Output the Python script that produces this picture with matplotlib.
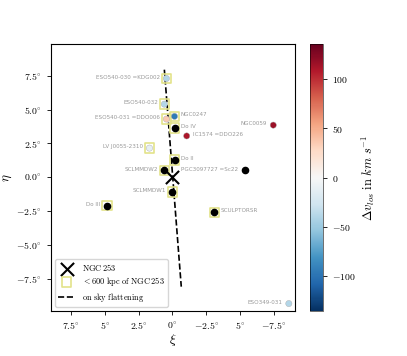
import numpy as np
import matplotlib
matplotlib.use('Agg')
import matplotlib.pyplot as plt

plt.rcParams['mathtext.fontset'] = 'cm'
plt.rcParams['axes.unicode_minus'] = True

# satellite galaxies around NGC 253, on-sky coords in degrees
names = ['ESO540-030 =KDG002', 'ESO540-032', 'ESO540-031 =DDO006', 'NGC0247', 'Do IV',
         'IC1574 =DDO226', 'NGC0059', 'LV J0055-2310', 'Do II', 'SCLMMDW2',
         'PGC3097727 =Sc22', 'SCLMMDW1', 'SCULPTORSR', 'Do III', 'ESO349-031']
xi = [0.45, 0.6, 0.45, -0.15, -0.15, -1.05, -7.45, 1.7, -0.15, 0.6, -5.35, 0.0, -3.1, 4.85, -8.6]
eta = [7.3, 5.4, 4.3, 4.5, 3.65, 3.05, 3.85, 2.15, 1.25, 0.5, 0.5, -1.1, -2.6, -2.1, -9.35]
dv = [-40, -40, 35, -95, np.nan, 110, 115, -12, np.nan, np.nan, np.nan, np.nan, np.nan, np.nan, -40]
near = [True, True, True, True, True, False, False, True, True, True, False, True, True, True, False]
side = ['l', 'l', 'l', 'r', 'r', 'r', 'l', 'l', 'r', 'l', 'l', 'l', 'r', 'l', 'l']

flat_xi = [0.6, -0.65]
flat_eta = [7.95, -8.1]

xticks = [7.5, 5, 2.5, 0, -2.5, -5, -7.5]
xticklabels = [r'$7.5^{\circ}$', r'$5^{\circ}$', r'$2.5^{\circ}$', r'$0^{\circ}$',
               r'$-2.5^{\circ}$', r'$5^{\circ}$', r'$-7.5^{\circ}$']
yticks = [7.5, 5, 2.5, 0, -2.5, -5, -7.5]
yticklabels = [r'$7.5^{\circ}$', r'$5.0^{\circ}$', r'$2.5^{\circ}$', r'$0.0^{\circ}$',
               r'$-2.5^{\circ}$', r'$-5.0^{\circ}$', r'$-7.5^{\circ}$']

fig = plt.figure(figsize=(4.07, 3.56), dpi=100)
ax = fig.add_axes([0.1246, 0.1264, 0.600, 0.75])
cax = fig.add_axes([0.762, 0.1264, 0.032, 0.75])

xi = np.array(xi)
eta = np.array(eta)
dv = np.array(dv, dtype=float)
near = np.array(near)

ax.plot(flat_xi, flat_eta, ls='--', color='black', lw=1.2, label='on sky flattening', zorder=1)
ax.scatter(xi[near], eta[near], marker='s', s=48, facecolor='none', edgecolor='#e3e38a',
           linewidth=1.2, zorder=2, label=r'$<600\ \mathrm{kpc\ of\ NGC\,253}$')
has_v = ~np.isnan(dv)
ax.scatter(xi[~has_v], eta[~has_v], s=20, color='black', zorder=3)
sc = ax.scatter(xi[has_v], eta[has_v], s=20, c=dv[has_v], cmap='RdBu_r', vmin=-135, vmax=135,
                edgecolor='#aaaaaa', linewidth=0.3, zorder=3)
ax.scatter([0], [0], marker='x', s=90, color='black', linewidth=1.5, zorder=4,
           label=r'$\mathrm{NGC\,253}$')

for n, x, y, s in zip(names, xi, eta, side):
    if s == 'l':
        ax.annotate(n, (x, y), xytext=(-4.5, 1), textcoords='offset points', ha='right', va='center',
                    fontsize=4.1, color='#999999')
    else:
        ax.annotate(n, (x, y), xytext=(4.5, 1), textcoords='offset points', ha='left', va='center',
                    fontsize=4.1, color='#999999')

ax.set_xlim(9.0, -9.05)
ax.set_ylim(-9.9, 9.85)
ax.set_xticks(xticks)
ax.set_xticklabels(xticklabels, fontsize=7)
ax.set_yticks(yticks)
ax.set_yticklabels(yticklabels, fontsize=7)
ax.tick_params(length=3, width=0.6)
ax.set_xlabel(r'$\xi$', fontsize=9.5, labelpad=1)
ax.set_ylabel(r'$\eta$', fontsize=9.5)
ax.yaxis.set_label_coords(-0.15, 0.5)

handles, labels = ax.get_legend_handles_labels()
order = [labels.index(r'$\mathrm{NGC\,253}$'), labels.index(r'$<600\ \mathrm{kpc\ of\ NGC\,253}$'),
         labels.index('on sky flattening')]
leg = ax.legend([handles[i] for i in order],
                [r'$\mathrm{NGC\,253}$', r'$<600\ \mathrm{kpc\ of\ NGC\,253}$',
                 r'$\mathrm{on\ sky\ flattening}$'],
                loc='lower left', fontsize=6, handlelength=2, borderpad=0.4, labelspacing=0.25,
                handletextpad=0.8)

cb = fig.colorbar(sc, cax=cax)
cb.set_ticks([-100, -50, 0, 50, 100])
cb.ax.set_yticklabels([r'$-100$', r'$-50$', r'$0$', r'$50$', r'$100$'], fontsize=7)
cb.ax.tick_params(length=3, width=0.6)
cb.outline.set_linewidth(0.4)
cb.set_label(r'$\Delta v_{los}\ \mathrm{in}\ km\ s^{-1}$', fontsize=9, labelpad=3)

fig.savefig('out.png', dpi=100)
